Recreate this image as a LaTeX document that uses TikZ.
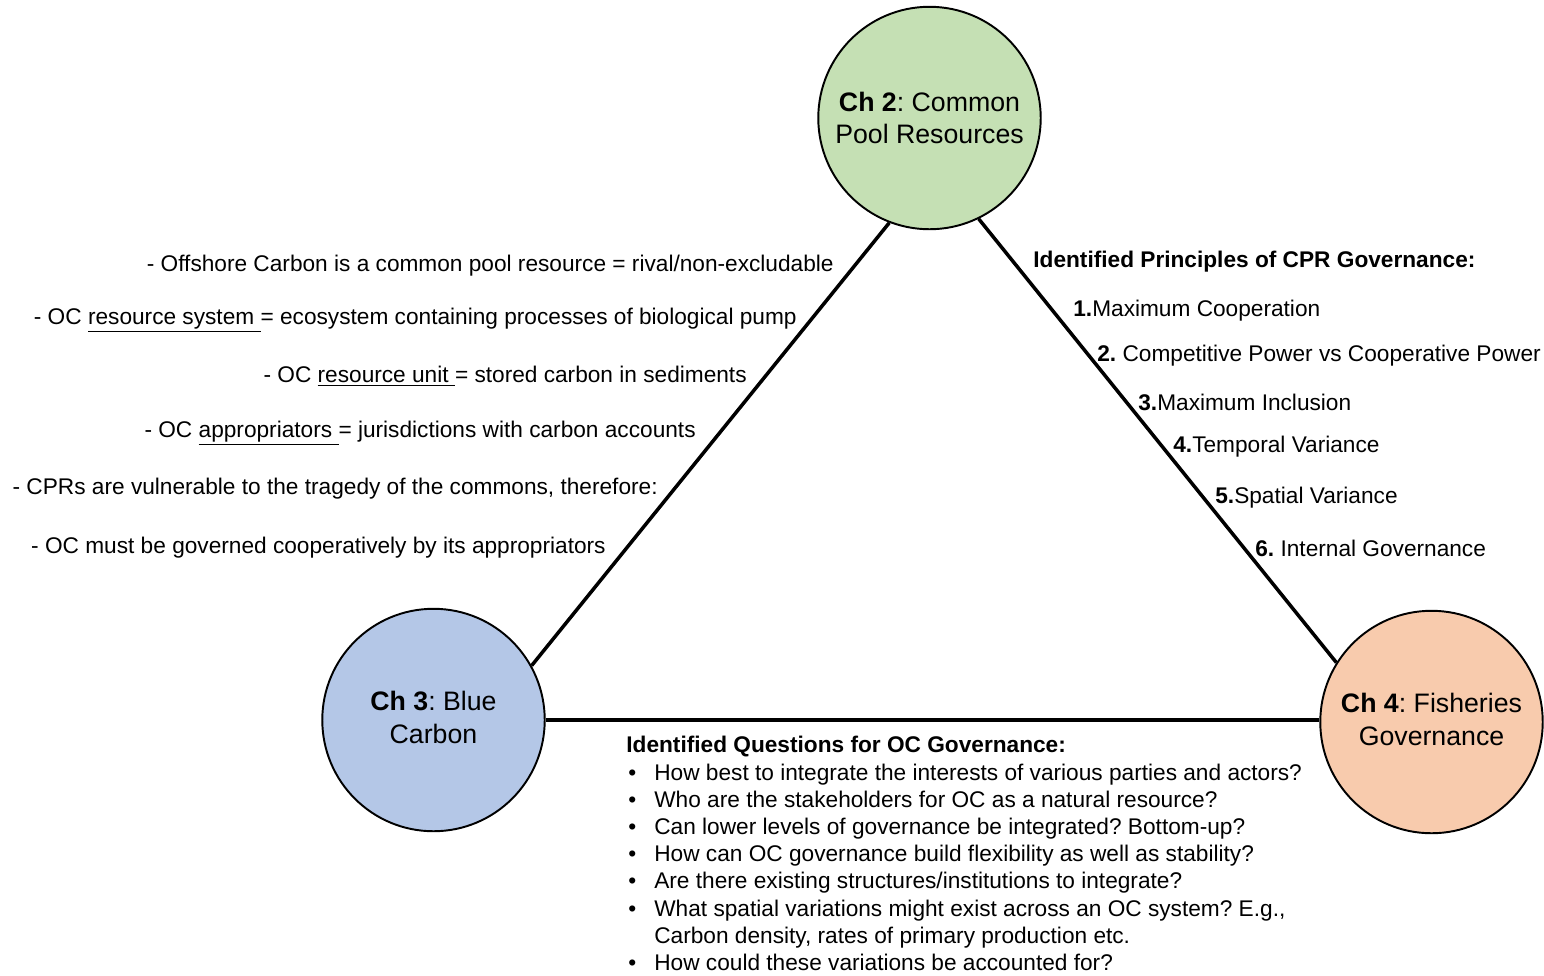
\documentclass[tikz,border=0pt]{standalone}
\usepackage{fontspec}
\setmainfont{Liberation Sans}
\usetikzlibrary{positioning}

\definecolor{cprgreen}{HTML}{C5E0B4}
\definecolor{carbonblue}{HTML}{B4C7E7}
\definecolor{fishorange}{HTML}{F8CBAD}

\begin{document}
\frenchspacing
\begin{tikzpicture}[x=0.02cm, y=-0.02cm,
    chapter/.style={draw, circle, inner sep=0pt, line width=1.1pt, minimum size=4.45cm, align=center, font=\fontsize{15.2}{18.7}\selectfont},
    link/.style={line width=2pt},
    leftnote/.style={anchor=east, inner sep=0pt, font=\fontsize{12.9}{15}\selectfont},
    rightnote/.style={anchor=west, inner sep=0pt, font=\fontsize{12.9}{15}\selectfont},
    questions/.style={anchor=north west, inner sep=0pt, align=left, font=\fontsize{12.9}{15.5}\selectfont}
]
\useasboundingbox (0,0) rectangle (1544,975);

% chapters
\node[chapter, fill=cprgreen] (ch2) at (929.5,118) {\textbf{Ch 2}: Common\\Pool Resources};
\node[chapter, fill=carbonblue] (ch3) at (433.5,720) {\raisebox{2.6pt}{\begin{tabular}{@{}c@{}}\textbf{Ch 3}: Blue\\Carbon\end{tabular}}};
\node[chapter, fill=fishorange] (ch4) at (1431.5,722) {\raisebox{1.5pt}{\begin{tabular}{@{}c@{}}\textbf{Ch 4}: Fisheries\\Governance\end{tabular}}};

\draw[link] (ch2.-111) -- (ch3.29);
\draw[link] (ch2.-64) -- (ch4.148);
\draw[link] (ch3.east) -- (ch3.east -| ch4.west);

% CPR notes (left)
\node[leftnote] (n1) at (834,266) {- Offshore Carbon is a common pool resource = rival/non-excludable};
\node[leftnote] (n2) at (797,320) {- OC \underline{resource system\ }= ecosystem containing processes of biological pump};
\node[leftnote] (n3) at (747,376) {- OC \underline{resource unit\ }= stored carbon in sediments};
\node[leftnote] (n4) at (696,433) {- OC \underline{appropriators\ }= jurisdictions with carbon accounts};
\node[leftnote] (n5) at (658,489) {- CPRs are vulnerable to the tragedy of the commons, therefore:};
\node[leftnote] (n6) at (606,548) {- OC must be governed cooperatively by its appropriators};

% principles (right)
\node[rightnote] (p0) at (1033,262) {\textbf{Identified Principles of CPR Governance:}};
\node[rightnote] (p1) at (1073,311) {\textbf{1.}Maximum Cooperation};
\node[rightnote] (p2) at (1097,356) {\textbf{2.} Competitive Power vs Cooperative Power};
\node[rightnote] (p3) at (1138,402) {\textbf{3.}Maximum Inclusion};
\node[rightnote] (p4) at (1173,447) {\textbf{4.}Temporal Variance};
\node[rightnote] (p5) at (1215,498) {\textbf{5.}Spatial Variance};
\node[rightnote] (p6) at (1255,548) {\textbf{6.} Internal Governance};

% questions (bottom)
\node[questions] (qs) at (626,736) {\textbf{Identified Questions for OC Governance:}\\
\makebox[0.56cm][l]{\hspace{0.04cm}\textbullet}How best to integrate the interests of various parties and actors?\\
\makebox[0.56cm][l]{\hspace{0.04cm}\textbullet}Who are the stakeholders for OC as a natural resource?\\
\makebox[0.56cm][l]{\hspace{0.04cm}\textbullet}Can lower levels of governance be integrated? Bottom-up?\\
\makebox[0.56cm][l]{\hspace{0.04cm}\textbullet}How can OC governance build flexibility as well as stability?\\
\makebox[0.56cm][l]{\hspace{0.04cm}\textbullet}Are there existing structures/institutions to integrate?\\
\makebox[0.56cm][l]{\hspace{0.04cm}\textbullet}What spatial variations might exist across an OC system? E.g.,\\
\hspace*{0.56cm}Carbon density, rates of primary production etc.\\
\makebox[0.56cm][l]{\hspace{0.04cm}\textbullet}How could these variations be accounted for?};
\end{tikzpicture}
\end{document}
